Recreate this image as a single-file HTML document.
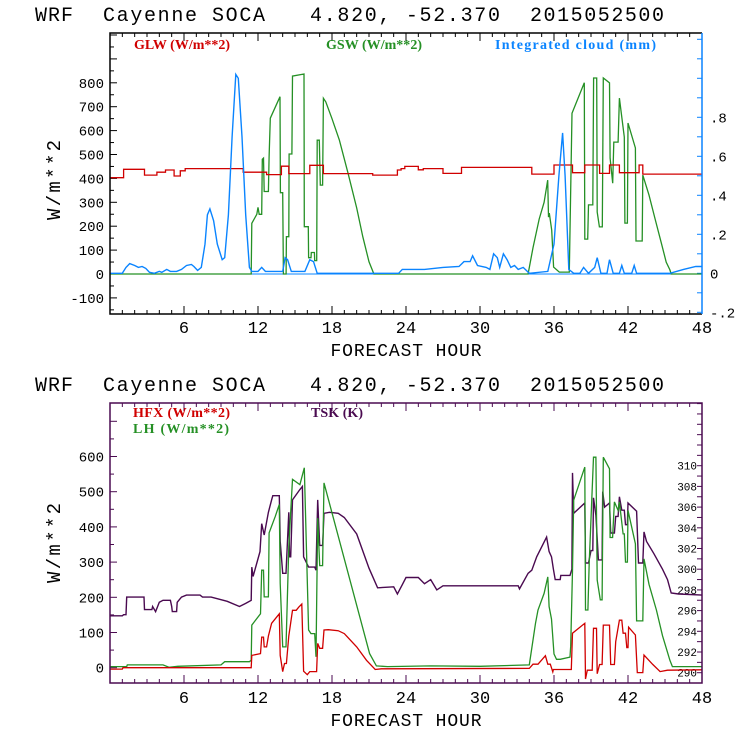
<!DOCTYPE html>
<html><head><meta charset="utf-8">
<style>
html,body{margin:0;padding:0;background:#fff;}
svg{display:block;}
.mono{font-family:"Liberation Mono","DejaVu Sans Mono",monospace;}
.leg{font-family:"Liberation Serif",serif;font-weight:bold;font-size:14px;}
</style></head>
<body>
<svg id="chart" width="740" height="740" viewBox="0 0 740 740" xmlns="http://www.w3.org/2000/svg">
  <g class="mono" font-size="20" fill="#000">
    <text x="35" y="21" textLength="38">WRF</text>
    <text x="103" y="21" textLength="94">Cayenne</text>
    <text x="212" y="21" textLength="53">SOCA</text>
    <text x="310" y="21" textLength="190">4.820, -52.370</text>
    <text x="530" y="21" textLength="134">2015052500</text>
  </g>
  <g class="mono" font-size="20" fill="#000">
    <text x="35" y="391" textLength="38">WRF</text>
    <text x="103" y="391" textLength="94">Cayenne</text>
    <text x="212" y="391" textLength="53">SOCA</text>
    <text x="310" y="391" textLength="190">4.820, -52.370</text>
    <text x="530" y="391" textLength="134">2015052500</text>
  </g>
  <g id="top"></g>
  <g id="bot"></g>
  <g class="leg">
    <text x="134" y="49" fill="#d00000" textLength="96">GLW (W/m**2)</text>
    <text x="326" y="49" fill="#259025" textLength="96">GSW (W/m**2)</text>
    <text x="495" y="49" fill="#0a84ff" textLength="161">Integrated cloud (mm)</text>
  </g>
  <g class="leg">
    <text x="133" y="417" fill="#d00000" textLength="97">HFX (W/m**2)</text>
    <text x="133" y="433" fill="#259025" textLength="96">LH  (W/m**2)</text>
    <text x="311" y="417" fill="#4a0a50" textLength="52">TSK (K)</text>
  </g>
</svg>
<script>
// ---------- data ----------
const hourTicks = [6,12,18,24,30,36,42,48];
const topLeftTicks = [-100,0,100,200,300,400,500,600,700,800];
const topRightTicks = [-0.2,0,0.2,0.4,0.6,0.8];
const topRightLabels = ["-.2","0",".2",".4",".6",".8"];
const botLeftTicks = [0,100,200,300,400,500,600];
const botRightTicks = [290,292,294,296,298,300,302,304,306,308,310];

const glwT = [0,1.1,2.8,3.8,4.5,5.2,5.7,6.1,10.8,12.7,13.9,14.5,16.2,17.3,21.3,23.3,23.6,23.9,25.0,25.4,27.0,28.5,34.2,36.0,37.5,38.5,39.7,40.5,41.3,42.9,43.2];
const glwV = [403,438,414,426,435,410,432,441,426,416,451,420,455,420,414,435,441,450,436,441,421,446,418,456,424,456,421,456,424,456,418];

const gswH = [0,11.45,11.5,11.9,12.0,12.1,12.3,12.35,12.45,12.5,12.84,12.9,13.0,13.78,13.82,14.0,14.06,14.28,14.3,14.5,14.52,14.75,14.8,15.73,15.75,16.08,16.1,16.3,16.32,16.57,16.6,16.76,16.8,16.97,17.05,17.24,17.3,17.5,18.0,18.6,19.3,20.0,20.5,21.0,21.4,33.9,34.3,34.8,35.2,35.49,35.55,35.62,35.81,35.97,36.43,37.24,37.46,38.46,38.5,38.73,38.8,39.15,39.21,39.46,39.5,39.68,39.92,40.0,40.5,40.55,40.76,40.85,41.2,41.3,41.7,41.75,41.95,42.0,42.6,42.65,43.15,43.2,43.7,44.2,44.7,45.1,45.4,45.5,48];
const gswV = [0,0,212,250,279,250,250,480,485,345,345,490,652,742,340,340,0,0,156,156,502,502,828,837,198,198,68,68,90,90,56,56,560,560,372,372,735,720,650,560,422,276,156,51,0,0,110,230,300,393,238,255,184,29,8,8,673,800,146,146,289,289,820,820,259,197,197,820,800,485,380,552,552,736,573,213,213,632,527,138,138,414,330,230,130,50,17,0,0];

const cldH = [0,1.0,1.3,1.6,2.0,2.3,2.6,2.9,3.2,3.6,4.0,4.2,4.6,4.9,5.4,5.8,6.2,6.6,6.8,7.1,7.4,7.7,7.9,8.1,8.4,8.7,9.1,9.3,9.6,9.9,10.2,10.4,10.7,11.0,11.3,11.5,12.0,12.3,12.6,14.0,14.2,14.4,14.7,15.8,16.2,16.5,16.8,21.4,23.4,23.7,25.5,27,28.3,28.7,29.2,29.4,29.8,30.5,30.8,31.1,31.4,31.6,31.9,32.2,32.5,32.8,33.1,33.5,34.0,35.5,36.0,36.4,36.7,36.9,37.2,37.6,38.1,38.4,38.8,39.3,39.5,39.8,40.3,40.5,40.8,41.3,41.5,41.7,42.3,42.5,42.7,45.4,46.5,47.5,48];
const cldV = [0,0,0.03,0.05,0.04,0.03,0.035,0.025,0.005,0,0.01,0.005,0.02,0.01,0.01,0.02,0.04,0.045,0.035,0.015,0.03,0.15,0.3,0.33,0.27,0.15,0.07,0.08,0.3,0.7,1.02,1.0,0.7,0.3,0.03,0.01,0.01,0.03,0.01,0.01,0.08,0.07,0.01,0.01,0.07,0.06,0,0,0,0.02,0.02,0.03,0.035,0.06,0.06,0.09,0.04,0.03,0.02,0.1,0.08,0.03,0.1,0.07,0.03,0.04,0.02,0.03,0,0.01,0.15,0.5,0.72,0.5,0.02,0,0,0.03,0,0.03,0.08,0,0,0.07,0,0,0.04,0,0,0.04,0,0,0.02,0.035,0.035];

const tskH = [0,1.0,1.1,1.3,1.35,2.76,2.8,3.4,3.45,3.7,4.0,4.3,4.9,5.0,5.05,5.4,5.45,5.8,6.2,7.3,7.5,8.2,9.5,10.5,11.0,11.45,11.5,11.6,12.16,12.3,12.5,12.84,13.1,13.2,13.73,13.8,14.0,14.27,14.5,14.55,14.65,14.8,15.4,15.6,15.7,16.1,16.6,16.7,16.84,17.0,17.24,17.35,17.8,18.5,19,20,21,21.7,23.0,23.3,23.7,24,25,25.5,26,26.5,27,33.1,33.2,33.9,34.2,34.6,35.4,35.6,35.8,35.95,36.1,36.5,36.55,37.3,37.45,37.5,37.6,38.5,38.55,38.8,39.0,39.15,39.2,39.4,39.6,39.9,39.95,40.1,40.5,40.6,40.9,41.0,41.2,41.3,41.5,41.7,41.8,41.95,42.0,42.7,42.85,43.2,43.3,43.5,44.1,44.8,45.2,45.5,46.1,48];
const tskV = [295.5,295.5,295.6,295.6,297.3,297.3,296.1,296.1,296.4,295.9,296.8,297.0,297.0,296.4,295.9,295.9,296.8,297.3,297.5,297.5,297.3,297.3,296.9,296.4,296.7,297.0,300.2,299.3,301.7,304.4,303.3,305.5,306.7,307.1,307.1,302.7,299.6,299.6,305.5,301.2,301.2,306.7,307.7,308.0,301.2,300.2,300.2,299.9,306.7,302.3,302.3,305.4,305.5,305.4,305.0,303.4,300.1,298.2,298.3,297.6,298.5,299.2,299.2,298.6,299.0,298.0,298.4,298.4,298.1,299.6,299.9,301.2,303.1,301.7,301.2,300.0,299.0,299.0,299.4,299.4,300,309.3,305.4,306.4,300.6,300.6,301.8,301.8,306.9,305.2,300.9,300.9,307.5,306.0,306.4,303.5,303.5,305.1,305.1,307.0,305.7,305.7,304.3,304.3,306.4,305.6,300.6,300.6,303.6,302.7,301.5,300.0,299.0,297.7,297.6,297.5];

const hfxH = [0,1.0,1.05,11.45,11.5,12.2,12.3,12.45,12.5,12.7,12.84,13.1,13.73,13.8,14.0,14.15,14.3,14.5,14.8,15.1,15.3,15.55,15.7,16.0,16.2,16.75,16.84,17.0,17.24,17.35,17.7,18.5,19,20,20.8,21.5,22,34.0,34.3,34.7,35.3,35.5,35.7,35.9,35.95,37.4,37.5,38.5,38.55,38.7,39.1,39.2,39.45,39.5,39.7,39.9,40.0,40.5,40.6,40.9,41.0,41.3,41.5,41.6,41.8,41.9,42.0,42.05,42.6,42.75,43.2,43.3,44.0,44.6,45.2,48];
const hfxV = [-4,-4,0,0,35,40,87,87,59,59,90,126,153,35,-11,12,12,90,163,163,172,181,-10,-20,-11,-11,69,55,55,107,108,105,97,59,21,-5,-3,-2,10,10,34,10,10,-12,-5,-5,98,126,-32,-7,-7,112,112,-17,9,9,121,121,9,9,74,135,135,98,98,57,57,115,93,-14,-14,36,9.5,-11,-7,-6];

const lhH = [0,1.35,1.4,4.3,4.8,5.5,9.0,9.3,11.3,11.45,11.5,12.2,12.3,12.45,12.5,12.84,12.9,13.4,13.73,13.8,14.0,14.27,14.5,14.8,15.4,15.75,16.1,16.3,16.6,16.7,16.84,17.0,17.24,17.35,21.05,21.6,22.5,26,30,34.0,34.5,34.7,35.2,35.5,35.6,35.8,36.0,36.2,36.5,37.3,37.35,37.5,37.6,38.5,38.55,38.75,38.85,39.2,39.4,39.5,39.75,39.9,40.0,40.5,40.55,40.75,40.9,41.2,41.3,41.6,41.7,41.8,41.95,42.0,42.6,42.7,43.2,43.3,43.7,44.3,44.8,45.4,45.6,48];
const lhV = [3,3,8,8,1,4,8,17,17,21,121,153,277,277,201,201,383,430,464,240,59,59,345,535,520,568,107,97,97,31,425,290,290,525,40,5,3,5,4,8,126,164,211,258,174,138,39,24,24,30,61,277,476,570,164,164,297,598,598,249,193,193,598,565,370,370,471,447,471,380,380,300,300,447,352,133,133,309,237,164,91,21,3,3];

// ---------- rendering ----------
const NS = "http://www.w3.org/2000/svg";
const X0 = 110, X1 = 702;
const xs = h => X0 + h * (X1 - X0) / 48;
const T_TOP = 33, T_BOT = 314;
const yTopL = v => 274 - v * 0.239;
const yTopR = v => 273.3 - v * 195;
const B_TOP = 403, B_BOT = 683;
const yBotL = v => 667.7 - v * 0.352;
const yBotR = k => 672.7 - (k - 290) * 10.35;

function mk(tag, attrs, parent) {
  const e = document.createElementNS(NS, tag);
  for (const k in attrs) e.setAttribute(k, attrs[k]);
  parent.appendChild(e);
  return e;
}
function linePath(H, V, ys) {
  let d = "";
  for (let i = 0; i < H.length; i++) d += (i ? "L" : "M") + xs(H[i]).toFixed(1) + " " + ys(V[i]).toFixed(1);
  return d;
}
function stepPath(T, V, ys) {
  let d = "";
  for (let i = 0; i < T.length; i++) {
    const xa = xs(T[i]), xb = xs(i + 1 < T.length ? T[i + 1] : 48), y = ys(V[i]);
    d += (i ? "L" : "M") + xa.toFixed(1) + " " + y.toFixed(1) + "L" + xb.toFixed(1) + " " + y.toFixed(1);
  }
  return d;
}

function axesX(g, top, bot, color, suffix, labelY, titleY) {
  for (let h = 0; h <= 48; h++) {
    const len = h % 6 === 0 ? 8 : 4;
    const t1 = mk("line", {x1: xs(h), x2: xs(h), y1: bot, y2: bot - len, stroke: color}, g);
    
    
    const t2 = mk("line", {x1: xs(h), x2: xs(h), y1: top, y2: top + len, stroke: color}, g);
    
    
  }
  hourTicks.forEach(h => {
    const t = mk("text", {x: xs(h), y: labelY, "text-anchor": "middle", class: "mono", "font-size": 17}, g);
    t.textContent = h;
    
    
  });
  const tt = mk("text", {x: 406, y: titleY, "text-anchor": "middle", class: "mono", "font-size": 18, textLength: 151}, g);
  tt.textContent = "FORECAST HOUR";
  
  
}

function yTitle(g, cx, cy) {
  const t = mk("text", {x: 0, y: 0, transform: `translate(${cx},${cy}) rotate(-90)`, "text-anchor": "middle", class: "mono", "font-size": 19, textLength: 80}, g);
  t.textContent = "W/m**2";
  
  
}

// ===== TOP PANEL =====
const gt = document.getElementById("top");
for (let v = -150; v <= 1000; v += 50) {
  const y = yTopL(v);
  if (y < T_TOP || y > T_BOT) continue;
  const tk = mk("line", {x1: X0, x2: X0 + (v % 100 === 0 ? 7 : 4), y1: y, y2: y, stroke: "#000"}, gt);
  
  
}
topLeftTicks.forEach(v => {
  const t = mk("text", {x: 104, y: yTopL(v) + 5, "text-anchor": "end", class: "mono", "font-size": 14}, gt);
  t.textContent = v;
  
  
});
for (let i = -2; i <= 12; i++) {
  const y = yTopR(i / 10);
  if (y < T_TOP || y > T_BOT) continue;
  const tk = mk("line", {x1: X1, x2: X1 - 5, y1: y, y2: y, stroke: "#0a84ff"}, gt);
  
  
}
topRightTicks.forEach((v, i) => {
  const t = mk("text", {x: 710, y: yTopR(v) + 5, class: "mono", "font-size": 14}, gt);
  t.textContent = topRightLabels[i];
  
  
});
axesX(gt, T_TOP, T_BOT, "#000", "-top", 333, 356);
yTitle(gt, 60, 180);
const zt = mk("line", {x1: X0, x2: X1, y1: yTopL(0), y2: yTopL(0), stroke: "#0a84ff", "stroke-width": 1}, gt);


const pGsw = mk("path", {d: linePath(gswH, gswV, yTopL), fill: "none", stroke: "#259025", "stroke-width": 1.3}, gt);


const pGlw = mk("path", {d: stepPath(glwT, glwV, yTopL), fill: "none", stroke: "#d00000", "stroke-width": 1.3}, gt);


const pCld = mk("path", {d: linePath(cldH, cldV, yTopR), fill: "none", stroke: "#0a84ff", "stroke-width": 1.4}, gt);


const bt = mk("path", {d: `M${X1} ${T_TOP}H${X0}V${T_BOT}H${X1}`, fill: "none", stroke: "#000", "stroke-width": 1.5}, gt);


const br = mk("line", {x1: X1, x2: X1, y1: T_TOP, y2: T_BOT, stroke: "#0a84ff", "stroke-width": 1.5}, gt);



// ===== BOTTOM PANEL =====
const gb = document.getElementById("bot");
const PUR = "#4a0a50";
for (let v = -50; v <= 700; v += 50) {
  const y = yBotL(v);
  if (y < B_TOP || y > B_BOT) continue;
  const tk = mk("line", {x1: X0, x2: X0 + (v % 100 === 0 ? 7 : 4), y1: y, y2: y, stroke: PUR}, gb);
  
  
}
botLeftTicks.forEach(v => {
  const t = mk("text", {x: 104, y: yBotL(v) + 5, "text-anchor": "end", class: "mono", "font-size": 14}, gb);
  t.textContent = v;
  
  
});
for (let k = 289; k <= 317; k++) {
  const y = yBotR(k);
  if (y < B_TOP || y > B_BOT) continue;
  const tk = mk("line", {x1: X1, x2: X1 - 5, y1: y, y2: y, stroke: PUR}, gb);
  
  
}
botRightTicks.forEach(k => {
  const t = mk("text", {x: 697, y: yBotR(k) + 4, "text-anchor": "end", class: "mono", "font-size": 11}, gb);
  t.textContent = k;
  
  
});
axesX(gb, B_TOP, B_BOT, PUR, "-bottom", 703, 726);
yTitle(gb, 60, 543);
const pTsk = mk("path", {d: linePath(tskH, tskV, yBotR), fill: "none", stroke: PUR, "stroke-width": 1.4}, gb);


const pLh = mk("path", {d: linePath(lhH, lhV, yBotL), fill: "none", stroke: "#259025", "stroke-width": 1.3}, gb);


const pHfx = mk("path", {d: linePath(hfxH, hfxV, yBotL), fill: "none", stroke: "#d00000", "stroke-width": 1.3}, gb);


const bb = mk("rect", {x: X0, y: B_TOP, width: X1 - X0, height: B_BOT - B_TOP, fill: "none", stroke: PUR, "stroke-width": 1.5}, gb);


</script>
</body></html>
